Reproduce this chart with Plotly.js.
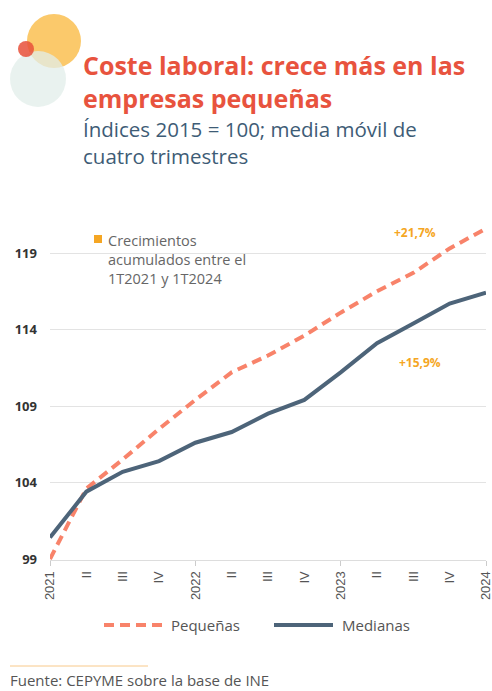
<!DOCTYPE html>
<html>
<head>
<meta charset="utf-8">
<script src="https://cdn.plot.ly/plotly-3.0.1.min.js"></script>
<style>
html,body{margin:0;padding:0;background:#fff;}
#chart{width:492px;height:691px;}
</style>
</head>
<body>
<div id="chart"></div>
<script>
// ---- Data ----
const periods = ['1T2021','2T2021','3T2021','4T2021','1T2022','2T2022','3T2022','4T2022','1T2023','2T2023','3T2023','4T2023','1T2024'];
const pequenas = [99.0, 103.6, 105.5, 107.5, 109.4, 111.2, 112.3, 113.6, 115.1, 116.5, 117.7, 119.3, 120.6];
const medianas = [100.4, 103.4, 104.7, 105.4, 106.6, 107.3, 108.5, 109.4, 111.2, 113.1, 114.4, 115.7, 116.4];
const yearTickIdx = [0, 4, 8, 12];
const yearTickText = ['2021', '2022', '2023', '2024'];
const quarterTickIdx = [1, 2, 3, 5, 6, 7, 9, 10, 11];
const quarterTickText = ['II', 'III', 'IV', 'II', 'III', 'IV', 'II', 'III', 'IV'];
const yTicks = [99, 104, 109, 114, 119];
const seriesNames = ['Pequeñas', 'Medianas'];
const growthLabels = ['+21,7%', '+15,9%'];

// ---- Layout geometry (pixels) ----
const W = 492, H = 691;
const L = 50, R = 6, T = 200, B = 131;
const pw = W - L - R, ph = H - T - B;
const px2x = p => (p - L) / pw;
const py2y = p => (H - B - p) / ph;

const cPeq = '#F8836A';
const cMed = '#4D6479';
const cTitle = '#E8533E';
const cSub = '#3E5C76';
const cOrange = '#F5A623';
const fontMain = '"Open Sans", Lato, sans-serif';
const fontTick = '"Liberation Sans", Arial, sans-serif';

const traces = [
  {
    x: periods.map((p, i) => i), y: pequenas, name: seriesNames[0], type: 'scatter', mode: 'lines',
    line: {color: cPeq, width: 4, dash: '10px,6px'}, showlegend: false, hoverinfo: 'skip', cliponaxis: false
  },
  {
    x: periods.map((p, i) => i), y: medianas, name: seriesNames[1], type: 'scatter', mode: 'lines',
    line: {color: cMed, width: 4}, showlegend: false, hoverinfo: 'skip', cliponaxis: false
  },
  {
    x: [0], y: [99], xaxis: 'x2', yaxis: 'y', type: 'scatter', mode: 'markers',
    marker: {opacity: 0}, showlegend: false, hoverinfo: 'skip'
  }
];

const circle = (cx, cy, r, color, op) => ({
  type: 'circle', xref: 'paper', yref: 'paper', layer: 'above',
  x0: px2x(cx - r), x1: px2x(cx + r), y0: py2y(cy + r), y1: py2y(cy - r),
  fillcolor: color, opacity: op, line: {width: 0}
});

const layout = {
  width: W, height: H,
  margin: {l: L, r: R, t: T, b: B},
  paper_bgcolor: '#fff', plot_bgcolor: '#fff',
  showlegend: false,
  font: {family: fontMain, color: '#555'},
  xaxis: {
    range: [0, 12], tickvals: yearTickIdx, ticktext: yearTickText, tickangle: -90,
    ticks: 'outside', ticklen: 5, tickcolor: '#ccc', showline: true, linecolor: '#ddd',
    showgrid: false, zeroline: false, ticklabeloverflow: 'allow',
    tickfont: {family: fontTick, size: 13, color: '#555'}
  },
  xaxis2: {
    overlaying: 'x', side: 'bottom', range: [0, 12], tickvals: quarterTickIdx, ticktext: quarterTickText,
    tickangle: -90, ticks: 'outside', ticklen: 5, tickcolor: 'rgba(0,0,0,0)', showline: false,
    showgrid: false, zeroline: false, ticklabeloverflow: 'allow',
    tickfont: {family: fontTick, size: 13, color: '#555'}
  },
  yaxis: {
    range: [99 - 1 / 15.3, 119 + 53 / 15.3], tickvals: yTicks, ticks: '', showline: false, zeroline: false,
    showgrid: true, gridcolor: '#e3e3e3', gridwidth: 1, ticklabelstandoff: 12,
    tickfont: {family: fontMain, size: 13, color: '#333', weight: 'bold'}
  },
  shapes: [
    circle(54, 41, 27, '#FBC96B', 1),
    circle(38, 79, 28, '#E2EDE9', 0.75),
    circle(26, 49, 8, '#E8503A', 0.85),
    // legend key lines
    {type: 'line', xref: 'paper', yref: 'paper', x0: px2x(104), x1: px2x(162), y0: py2y(625), y1: py2y(625),
     line: {color: cPeq, width: 4, dash: '10px,6px'}},
    {type: 'line', xref: 'paper', yref: 'paper', x0: px2x(274), x1: px2x(333), y0: py2y(625), y1: py2y(625),
     line: {color: cMed, width: 4}},
    // source rule
    {type: 'line', xref: 'paper', yref: 'paper', x0: px2x(10), x1: px2x(148), y0: py2y(666), y1: py2y(666),
     line: {color: '#F8C98A', width: 1}},
    // annotation square
    {type: 'rect', xref: 'paper', yref: 'paper', x0: px2x(94), x1: px2x(102), y0: py2y(243), y1: py2y(235),
     fillcolor: cOrange, line: {width: 0}}
  ],
  annotations: [
    {xref: 'paper', yref: 'paper', x: px2x(81), y: py2y(46), xanchor: 'left', yanchor: 'top', showarrow: false, align: 'left',
     text: '<b>Coste laboral: crece más en las<br>empresas pequeñas</b>',
     font: {family: fontMain, size: 25, color: cTitle}},
    {xref: 'paper', yref: 'paper', x: px2x(81), y: py2y(113), xanchor: 'left', yanchor: 'top', showarrow: false, align: 'left',
     text: 'Índices 2015 = 100; media móvil de<br>cuatro trimestres',
     font: {family: fontMain, size: 20.5, color: cSub}},
    {xref: 'paper', yref: 'paper', x: px2x(106), y: py2y(229), xanchor: 'left', yanchor: 'top', showarrow: false, align: 'left',
     text: 'Crecimientos<br>acumulados entre el<br>1T2021 y 1T2024',
     font: {family: fontMain, size: 14.5, color: '#666'}},
    {xref: 'paper', yref: 'paper', x: px2x(415), y: py2y(232), xanchor: 'center', yanchor: 'middle', showarrow: false,
     text: '<b>' + growthLabels[0] + '</b>', font: {family: fontMain, size: 12, color: cOrange}},
    {xref: 'paper', yref: 'paper', x: px2x(420), y: py2y(362), xanchor: 'center', yanchor: 'middle', showarrow: false,
     text: '<b>' + growthLabels[1] + '</b>', font: {family: fontMain, size: 12, color: cOrange}},
    {xref: 'paper', yref: 'paper', x: px2x(169), y: py2y(625), xanchor: 'left', yanchor: 'middle', showarrow: false,
     text: seriesNames[0], font: {family: fontMain, size: 15, color: '#555'}},
    {xref: 'paper', yref: 'paper', x: px2x(340), y: py2y(625), xanchor: 'left', yanchor: 'middle', showarrow: false,
     text: seriesNames[1], font: {family: fontMain, size: 15, color: '#555'}},
    {xref: 'paper', yref: 'paper', x: px2x(8), y: py2y(668), xanchor: 'left', yanchor: 'top', showarrow: false,
     text: 'Fuente: CEPYME sobre la base de INE', font: {family: fontMain, size: 15, color: '#555'}}
  ]
};

Plotly.newPlot('chart', traces, layout, {displayModeBar: false, staticPlot: true});
</script>
</body>
</html>
